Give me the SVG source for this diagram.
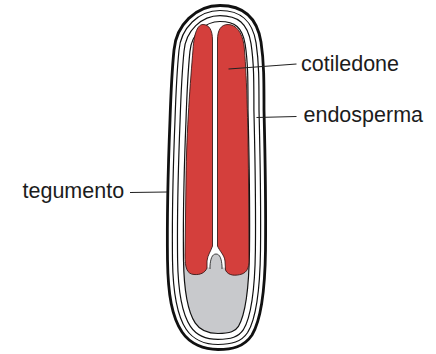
<svg xmlns="http://www.w3.org/2000/svg" width="436" height="354" viewBox="0 0 436 354">
  <style>
    .lbl { font-family: "Liberation Sans", Arial, sans-serif; font-size: 21.5px; fill: #1c1c1c; }
    .lead { stroke: #222; stroke-width: 1.2; fill: none; }
    .cot { fill: #d43f3c; stroke: #3c1a18; stroke-width: 0.9; stroke-linejoin: round; }
    .ink { stroke: #111; fill: none; }
    .blank { stroke: #fff; fill: none; }
    .rad { fill: #c8c9cc; }
    .radline { fill: none; stroke: #2a2a2a; stroke-width: 0.9; }
  </style>
  <defs>
    <!-- outline of the seed; inner coat lines are offsets of this outline -->
    <path id="outline" d="M 220 5.5 C 243 5.5 257 17 261 42 C 264 62 264 80 264 110 C 265 150 266 200 265.5 250 C 265 290 261 320 252 335 C 244 347 232 349.5 218 349.5 C 204 349.5 190 344 182 332 C 172 317 168 295 167.5 260 C 167 220 168 170 170 120 C 171 90 172 70 174 50 C 176 25 196 5.5 220 5.5 Z"/>
    <clipPath id="inside">
      <use href="#outline"/>
    </clipPath>
  </defs>

  <rect width="436" height="354" fill="#fff"/>

  <!-- seed coat (tegumento) and endosperm layers -->
  <g id="seed-coat">
    <g clip-path="url(#inside)">
      <rect x="150" y="262" width="140" height="100" class="rad"/>
      <use href="#outline" class="ink" stroke-width="33.2"/>
      <use href="#outline" class="blank" stroke-width="30.8"/>
      <use href="#outline" class="ink" stroke-width="21.4"/>
      <use href="#outline" class="blank" stroke-width="19"/>
      <use href="#outline" class="ink" stroke-width="11.2"/>
      <use href="#outline" class="blank" stroke-width="8.8"/>
    </g>
    <use href="#outline" class="ink" stroke-width="2.8"/>
  </g>

  <!-- embryo: two cotyledons and the radicle tip -->
  <g id="embryo">
    <path fill="#fff" d="M 205 242 L 227 242 L 227 268 Q 216 266 205 268 Z"/>
    <path class="cot" d="M 212.5 40 C 212.5 30 209 24.5 203 24.5 C 198 24.5 194 32 193 50 C 190.5 80 186.5 130 186 180 L 185 255 C 185 268 187 274 194 274.5 C 200 275 205 273 207 268 L 207 261 C 207.5 255 211 251 212.5 246 Z"/>
    <path class="cot" d="M 217.5 40 C 217.5 30 221 24.5 228 24.5 C 236 24.5 242 32 244 45 C 246.5 70 248 120 248.5 180 L 249 260 C 249 268 247 272 242 274 C 236 276 228 276 225.5 270 L 225 261 C 224.5 255 219.5 251 217.5 246 Z"/>
    <path class="rad" d="M 210 272 L 210 266 C 210.5 259 212 254 216 254 C 220 254 221.5 259 222 266 L 222 272 Z"/>
    <path class="radline" d="M 210 269 L 210 266 C 210.5 259 212 254 216 254 C 220 254 221.5 259 222 266 L 222 269"/>
  </g>

  <g id="label-cotiledone">
    <text class="lbl" x="301" y="71">cotiledone</text>
  </g>
  <g id="label-endosperma">
    <text class="lbl" x="303.5" y="121.5">endosperma</text>
  </g>
  <g id="label-tegumento">
    <text class="lbl" x="22.5" y="197.5">tegumento</text>
  </g>

  <g id="connectors">
    <line class="lead" x1="228.5" y1="69" x2="296.5" y2="64"/>
    <line class="lead" x1="256.5" y1="117.5" x2="296.5" y2="116.5"/>
    <line class="lead" x1="130" y1="192.5" x2="167" y2="192"/>
  </g>
</svg>
